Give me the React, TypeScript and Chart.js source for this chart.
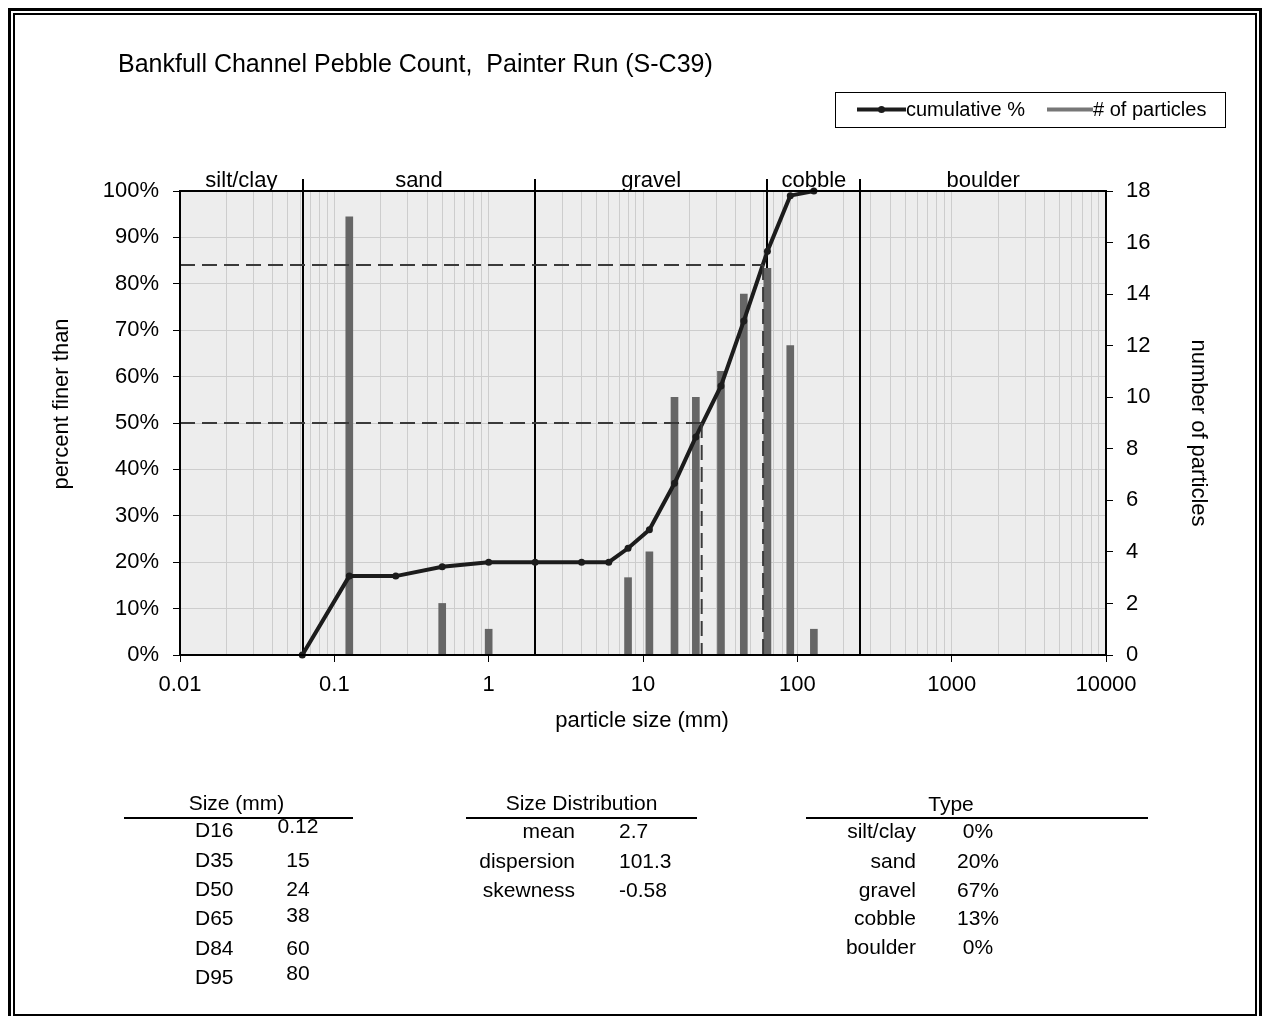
import React, { useEffect, useRef } from 'react';
import { Chart, registerables } from 'chart.js';

Chart.register(...registerables);

// ---------- data ----------
const cumulativeSizes = [0.062, 0.125, 0.25, 0.5, 1, 2, 4, 6, 8, 11, 16, 22, 32, 45, 64, 90, 128];
const cumulativePercent = [0, 17, 17, 19, 20, 20, 20, 20, 23, 27, 37, 47, 58, 72, 87, 99, 100];

const particleSizes = [0.125, 0.5, 1, 8, 11, 16, 22, 32, 45, 64, 90, 128];
const particleCounts = [17, 2, 1, 3, 4, 10, 10, 11, 14, 15, 12, 1];

const classEdges = [0.01, 0.0625, 2, 64, 256, 10000];
const classNames = ['silt/clay', 'sand', 'gravel', 'cobble', 'boulder'];

const xDecades = [0.01, 0.1, 1, 10, 100, 1000, 10000];
const xDecadeLabels = ['0.01', '0.1', '1', '10', '100', '1000', '10000'];

const D50 = 24;
const D84 = 60;

const sizeLabels = ['D16', 'D35', 'D50', 'D65', 'D84', 'D95'];
const sizeValues = ['0.12', '15', '24', '38', '60', '80'];

const distLabels = ['mean', 'dispersion', 'skewness'];
const distValues = ['2.7', '101.3', '-0.58'];

const typeLabels = ['silt/clay', 'sand', 'gravel', 'cobble', 'boulder'];
const typeValues = ['0%', '20%', '67%', '13%', '0%'];

const titleText = 'Bankfull Channel Pebble Count,  Painter Run (S-C39)';

// ---------- layout ----------
const W = 1263;
const H = 1016;
const PLOT = { left: 180, right: 1106, top: 191, bottom: 655 };
const FONT = '"Liberation Sans", Arial, Helvetica, sans-serif';

const isDecade = (v: number) => xDecades.some((d) => Math.abs(v - d) / d < 1e-9);

const overlayPlugin = {
  id: 'overlay',
  beforeDraw(chart: any) {
    const { ctx, chartArea: a } = chart;
    ctx.save();
    ctx.fillStyle = '#ededed';
    ctx.fillRect(a.left, a.top, a.right - a.left, a.bottom - a.top);
    ctx.restore();
  },
  beforeDatasetsDraw(chart: any) {
    const { ctx, chartArea: a, scales } = chart;
    const x = scales.x;
    ctx.save();
    ctx.strokeStyle = '#000';
    ctx.lineWidth = 2;
    for (let i = 1; i < classEdges.length - 1; i++) {
      const px = Math.round(x.getPixelForValue(classEdges[i]));
      ctx.beginPath();
      ctx.moveTo(px, a.top - 12);
      ctx.lineTo(px, a.bottom);
      ctx.stroke();
    }
    ctx.restore();
  },
  afterDatasetsDraw(chart: any) {
    const { ctx, chartArea: a, scales } = chart;
    const x = scales.x;
    const y = scales.y;
    ctx.save();
    ctx.strokeStyle = '#3a3a3a';
    ctx.lineWidth = 2;
    ctx.setLineDash([15, 7]);
    [
      [D84, 84],
      [D50, 50],
    ].forEach(([size, pct]) => {
      const px = x.getPixelForValue(size);
      const py = Math.round(y.getPixelForValue(pct));
      ctx.beginPath();
      ctx.moveTo(a.left, py);
      ctx.lineTo(px, py);
      ctx.stroke();
      ctx.beginPath();
      ctx.moveTo(px, py);
      ctx.lineTo(px, a.bottom);
      ctx.stroke();
    });
    ctx.setLineDash([]);
    ctx.strokeStyle = '#000';
    ctx.lineWidth = 2;
    ctx.strokeRect(a.left, a.top, a.right - a.left, a.bottom - a.top);
    ctx.restore();
  },
  afterDraw(chart: any) {
    const { ctx, chartArea: a, scales } = chart;
    const x = scales.x;
    ctx.save();
    ctx.fillStyle = '#000';
    // title
    ctx.font = `25px ${FONT}`;
    ctx.textAlign = 'left';
    ctx.textBaseline = 'alphabetic';
    ctx.fillText(titleText, 118, 72);
    // class labels
    ctx.font = `22px ${FONT}`;
    ctx.textAlign = 'center';
    for (let i = 0; i < classNames.length; i++) {
      const l = Math.log10(classEdges[i]);
      const r = Math.log10(classEdges[i + 1]);
      const cx = x.getPixelForValue(Math.pow(10, (l + r) / 2));
      ctx.fillText(classNames[i], cx, a.top - 4);
    }
    // axis titles
    ctx.font = `22px ${FONT}`;
    ctx.textBaseline = 'middle';
    ctx.fillText('particle size (mm)', 642, 721);
    ctx.save();
    ctx.translate(62, 404);
    ctx.rotate(-Math.PI / 2);
    ctx.fillText('percent finer than', 0, 0);
    ctx.restore();
    ctx.save();
    ctx.translate(1198, 433);
    ctx.rotate(Math.PI / 2);
    ctx.fillText('number of particles', 0, 0);
    ctx.restore();
    // legend
    ctx.strokeStyle = '#000';
    ctx.lineWidth = 1;
    ctx.strokeRect(835.5, 92.5, 390, 35);
    ctx.lineWidth = 4;
    ctx.strokeStyle = '#1c1c1c';
    ctx.beginPath();
    ctx.moveTo(857, 109.5);
    ctx.lineTo(906, 109.5);
    ctx.stroke();
    ctx.fillStyle = '#1c1c1c';
    ctx.beginPath();
    ctx.arc(881.5, 109.5, 3.5, 0, Math.PI * 2);
    ctx.fill();
    ctx.strokeStyle = '#777';
    ctx.beginPath();
    ctx.moveTo(1047, 109.5);
    ctx.lineTo(1093, 109.5);
    ctx.stroke();
    ctx.fillStyle = '#000';
    ctx.font = `20px ${FONT}`;
    ctx.textAlign = 'left';
    ctx.textBaseline = 'middle';
    ctx.fillText('cumulative %', 906, 110);
    ctx.fillText('# of particles', 1093, 110);
    ctx.restore();
  },
};

function ChartCanvas() {
  const ref = useRef<HTMLCanvasElement | null>(null);
  useEffect(() => {
    if (!ref.current) return;
    const chart = new Chart(ref.current, {
      type: 'bar',
      data: {
        datasets: [
          {
            type: 'line',
            label: 'cumulative %',
            data: cumulativeSizes.map((s, i) => ({ x: s, y: cumulativePercent[i] })),
            yAxisID: 'y',
            xAxisID: 'x',
            borderColor: '#1c1c1c',
            backgroundColor: '#1c1c1c',
            borderWidth: 4,
            pointRadius: 3.5,
            pointBorderWidth: 0,
            pointBackgroundColor: '#1c1c1c',
            tension: 0,
            order: 0,
            clip: 10,
          } as any,
          {
            type: 'bar',
            label: '# of particles',
            data: particleSizes.map((s, i) => ({ x: s, y: particleCounts[i] })),
            yAxisID: 'y2',
            xAxisID: 'x',
            backgroundColor: '#666666',
            borderWidth: 0,
            barThickness: 7,
            order: 1,
          } as any,
        ],
      },
      options: {
        responsive: false,
        animation: false,
        devicePixelRatio: 1,
        layout: { padding: { top: PLOT.top, left: 0, right: 0, bottom: 0 } },
        plugins: { legend: { display: false }, tooltip: { enabled: false }, title: { display: false } },
        scales: {
          x: {
            type: 'logarithmic',
            position: 'bottom',
            min: 0.01,
            max: 10000,
            offset: false,
            grid: {
              offset: false,
              color: '#cdcdcd',
              lineWidth: 1,
              tickLength: 7,
              tickColor: (c: any) => (c.tick && isDecade(c.tick.value) ? '#000' : 'rgba(0,0,0,0)'),
            },
            border: { display: false },
            afterBuildTicks: (scale: any) => {
              const ticks: any[] = [];
              for (let d = 0; d < xDecades.length; d++) {
                const dec = xDecades[d];
                if (d === xDecades.length - 1) {
                  ticks.push({ value: dec, major: true });
                } else {
                  for (let m = 1; m <= 9; m++) ticks.push({ value: dec * m, major: m === 1 });
                }
              }
              scale.ticks = ticks;
            },
            afterFit: (scale: any) => {
              scale.height = H - PLOT.bottom;
            },
            ticks: {
              autoSkip: false,
              maxRotation: 0,
              minRotation: 0,
              padding: 10,
              color: '#000',
              font: { family: FONT, size: 22 },
              callback: (v: any) => {
                const i = xDecades.findIndex((d) => Math.abs(v - d) / d < 1e-9);
                return i >= 0 ? xDecadeLabels[i] : '';
              },
            },
          },
          y: {
            type: 'linear',
            position: 'left',
            min: 0,
            max: 100,
            grid: { color: '#cdcdcd', lineWidth: 1, tickLength: 7, tickColor: '#000' },
            border: { display: false },
            afterFit: (scale: any) => {
              scale.width = PLOT.left;
            },
            ticks: {
              stepSize: 10,
              padding: 14,
              color: '#000',
              font: { family: FONT, size: 22 },
              callback: (v: any) => `${v}%`,
            },
          },
          y2: {
            type: 'linear',
            position: 'right',
            min: 0,
            max: 18,
            grid: { drawOnChartArea: false, tickLength: 7, tickColor: '#000' },
            border: { display: false },
            afterFit: (scale: any) => {
              scale.width = W - PLOT.right;
            },
            ticks: {
              stepSize: 2,
              padding: 13,
              color: '#000',
              font: { family: FONT, size: 22 },
            },
          },
        },
      } as any,
      plugins: [overlayPlugin],
    });
    return () => chart.destroy();
  }, []);
  return <canvas ref={ref} width={W} height={H} style={{ position: 'absolute', left: 0, top: 0, width: W, height: H }} />;
}

const txt = (size: number): React.CSSProperties => ({
  position: 'absolute',
  font: `${size}px ${FONT}`,
  lineHeight: '24px',
  whiteSpace: 'nowrap',
  color: '#000',
});

function Tables() {
  const sizeLabelY = [830, 860, 889, 918, 948, 977];
  const sizeValueY = [826, 860, 889, 915, 948, 973];
  const distY = [831, 861, 890];
  const typeY = [831, 861, 890, 918, 947];
  const fs = 21;
  return (
    <>
      {/* Size (mm) */}
      <div style={{ ...txt(fs), left: 124, width: 229, textAlign: 'center', top: 803 - 12, marginLeft: -2 }}>Size (mm)</div>
      <div style={{ position: 'absolute', left: 124, width: 229, top: 817, height: 2, background: '#000' }} />
      {sizeLabels.map((l, i) => (
        <div key={'sl' + i} style={{ ...txt(fs), left: 195, top: sizeLabelY[i] - 12 }}>{l}</div>
      ))}
      {sizeValues.map((v, i) => (
        <div key={'sv' + i} style={{ ...txt(fs), left: 258, width: 80, textAlign: 'center', top: sizeValueY[i] - 12 }}>{v}</div>
      ))}
      {/* Size Distribution */}
      <div style={{ ...txt(fs), left: 466, width: 231, textAlign: 'center', top: 803 - 12 }}>Size Distribution</div>
      <div style={{ position: 'absolute', left: 466, width: 231, top: 817, height: 2, background: '#000' }} />
      {distLabels.map((l, i) => (
        <div key={'dl' + i} style={{ ...txt(fs), left: 375, width: 200, textAlign: 'right', top: distY[i] - 12 }}>{l}</div>
      ))}
      {distValues.map((v, i) => (
        <div key={'dv' + i} style={{ ...txt(fs), left: 619, top: distY[i] - 12 }}>{v}</div>
      ))}
      {/* Type */}
      <div style={{ ...txt(fs), left: 851, width: 200, textAlign: 'center', top: 804 - 12 }}>Type</div>
      <div style={{ position: 'absolute', left: 806, width: 342, top: 817, height: 2, background: '#000' }} />
      {typeLabels.map((l, i) => (
        <div key={'tl' + i} style={{ ...txt(fs), left: 716, width: 200, textAlign: 'right', top: typeY[i] - 12 }}>{l}</div>
      ))}
      {typeValues.map((v, i) => (
        <div key={'tv' + i} style={{ ...txt(fs), left: 938, width: 80, textAlign: 'center', top: typeY[i] - 12 }}>{v}</div>
      ))}
    </>
  );
}

export default function App() {
  return (
    <div style={{ position: 'fixed', left: 0, top: 0, width: W, height: H, overflow: 'hidden', background: '#fff' }}>
      <ChartCanvas />
      <div
        style={{
          position: 'absolute',
          left: 8,
          top: 8,
          width: 1254,
          height: 1013,
          boxSizing: 'border-box',
          border: '3px solid #000',
          padding: 2,
          pointerEvents: 'none',
        }}
      >
        <div style={{ width: '100%', height: '100%', boxSizing: 'border-box', border: '2px solid #000' }} />
      </div>
      <Tables />
    </div>
  );
}
